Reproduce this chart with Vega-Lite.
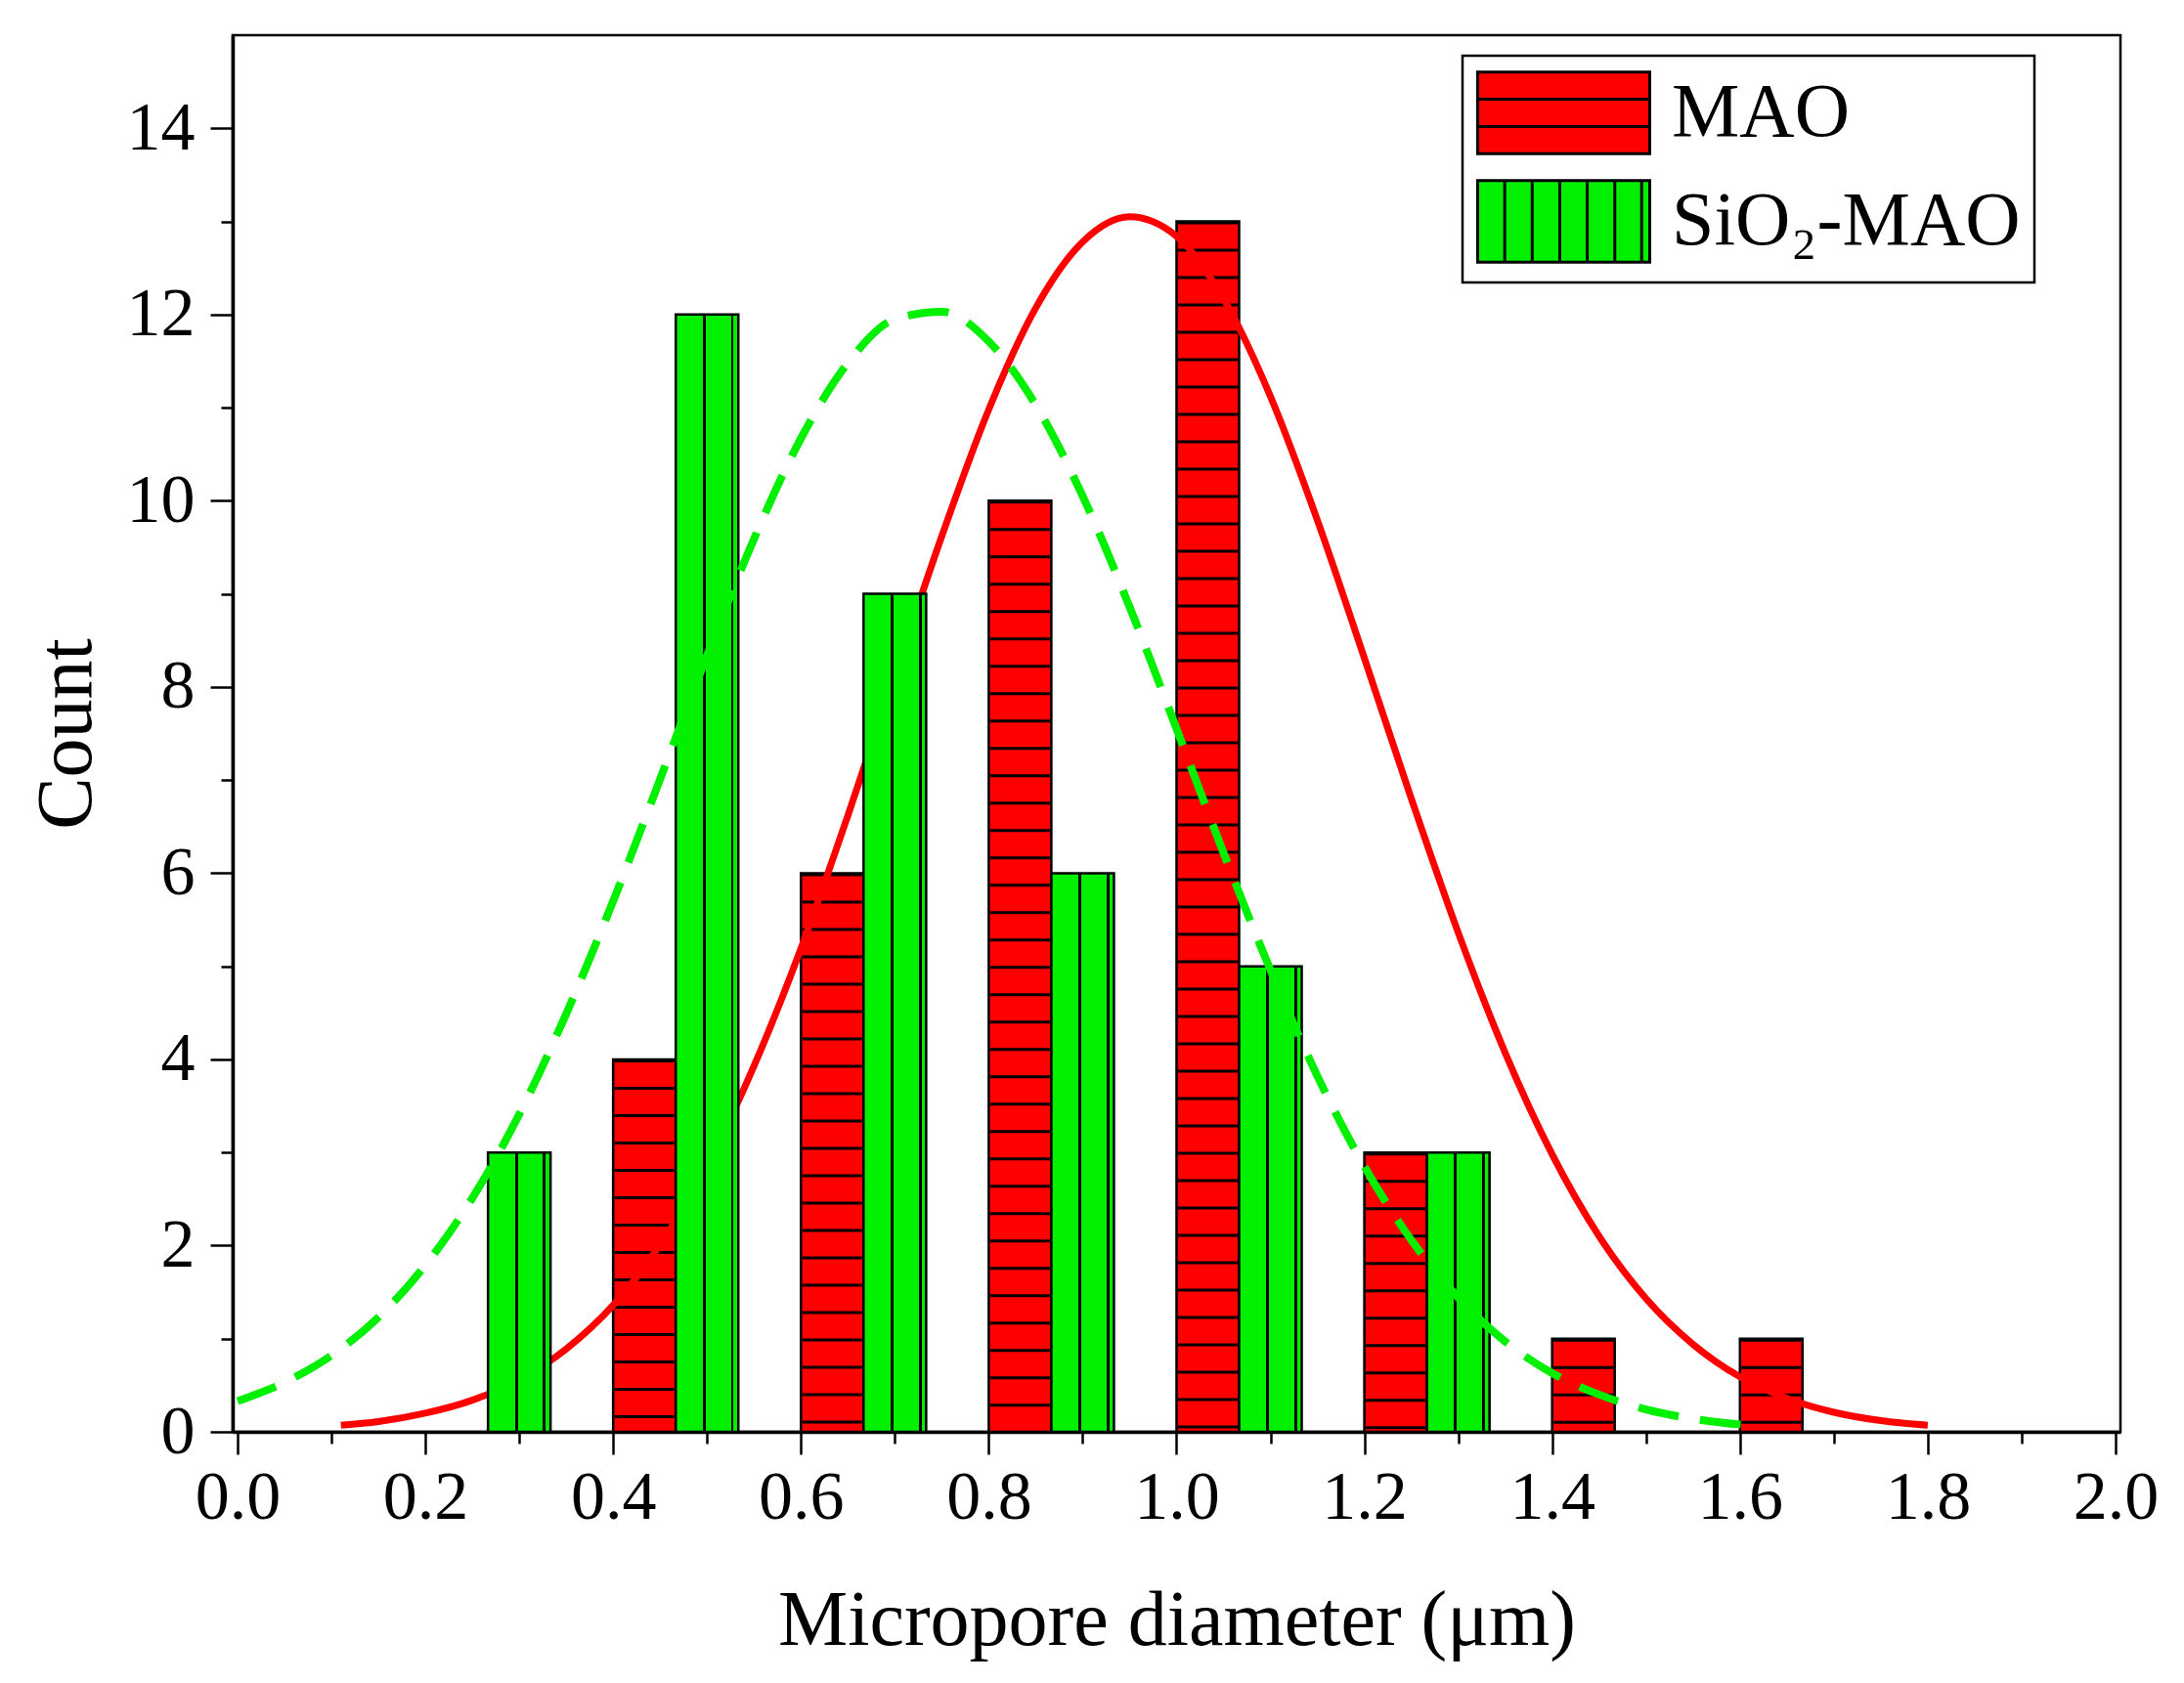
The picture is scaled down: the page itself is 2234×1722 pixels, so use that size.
{
  "$schema": "https://vega.github.io/schema/vega-lite/v6.json",
  "background": "white",
  "autosize": "none",
  "padding": {"left": 238, "top": 36, "right": 65, "bottom": 257},
  "width": 1931,
  "height": 1429,
  "datasets": {
    "bars": [
      {"series": "MAO", "diameter": 0.4333, "count": 4},
      {"series": "MAO", "diameter": 0.6333, "count": 6},
      {"series": "MAO", "diameter": 0.8333, "count": 10},
      {"series": "MAO", "diameter": 1.0333, "count": 13},
      {"series": "MAO", "diameter": 1.2333, "count": 3},
      {"series": "MAO", "diameter": 1.4333, "count": 1},
      {"series": "MAO", "diameter": 1.6333, "count": 1},
      {"series": "SiO₂-MAO", "diameter": 0.3, "count": 3},
      {"series": "SiO₂-MAO", "diameter": 0.5, "count": 12},
      {"series": "SiO₂-MAO", "diameter": 0.7, "count": 9},
      {"series": "SiO₂-MAO", "diameter": 0.9, "count": 6},
      {"series": "SiO₂-MAO", "diameter": 1.1, "count": 5},
      {"series": "SiO₂-MAO", "diameter": 1.3, "count": 3}
    ],
    "fits": [
      {"series": "MAO", "diameter": 0.11, "count": 0.07},
      {"series": "MAO", "diameter": 0.15, "count": 0.11},
      {"series": "MAO", "diameter": 0.2, "count": 0.2},
      {"series": "MAO", "diameter": 0.25, "count": 0.34},
      {"series": "MAO", "diameter": 0.3, "count": 0.56},
      {"series": "MAO", "diameter": 0.35, "count": 0.89},
      {"series": "MAO", "diameter": 0.4, "count": 1.36},
      {"series": "MAO", "diameter": 0.45, "count": 2.01},
      {"series": "MAO", "diameter": 0.5, "count": 2.86},
      {"series": "MAO", "diameter": 0.55, "count": 3.93},
      {"series": "MAO", "diameter": 0.6, "count": 5.19},
      {"series": "MAO", "diameter": 0.65, "count": 6.62},
      {"series": "MAO", "diameter": 0.7, "count": 8.13},
      {"series": "MAO", "diameter": 0.75, "count": 9.62},
      {"series": "MAO", "diameter": 0.8, "count": 10.98},
      {"series": "MAO", "diameter": 0.85, "count": 12.07},
      {"series": "MAO", "diameter": 0.9, "count": 12.78},
      {"series": "MAO", "diameter": 0.95, "count": 13.05},
      {"series": "MAO", "diameter": 1.0, "count": 12.84},
      {"series": "MAO", "diameter": 1.05, "count": 12.17},
      {"series": "MAO", "diameter": 1.1, "count": 11.12},
      {"series": "MAO", "diameter": 1.15, "count": 9.79},
      {"series": "MAO", "diameter": 1.2, "count": 8.31},
      {"series": "MAO", "diameter": 1.25, "count": 6.8},
      {"series": "MAO", "diameter": 1.3, "count": 5.36},
      {"series": "MAO", "diameter": 1.35, "count": 4.07},
      {"series": "MAO", "diameter": 1.4, "count": 2.98},
      {"series": "MAO", "diameter": 1.45, "count": 2.1},
      {"series": "MAO", "diameter": 1.5, "count": 1.43},
      {"series": "MAO", "diameter": 1.55, "count": 0.94},
      {"series": "MAO", "diameter": 1.6, "count": 0.59},
      {"series": "MAO", "diameter": 1.65, "count": 0.36},
      {"series": "MAO", "diameter": 1.7, "count": 0.21},
      {"series": "MAO", "diameter": 1.75, "count": 0.12},
      {"series": "MAO", "diameter": 1.8, "count": 0.07},
      {"series": "SiO₂-MAO", "diameter": 0.0, "count": 0.33},
      {"series": "SiO₂-MAO", "diameter": 0.05, "count": 0.53},
      {"series": "SiO₂-MAO", "diameter": 0.1, "count": 0.82},
      {"series": "SiO₂-MAO", "diameter": 0.15, "count": 1.23},
      {"series": "SiO₂-MAO", "diameter": 0.2, "count": 1.79},
      {"series": "SiO₂-MAO", "diameter": 0.25, "count": 2.51},
      {"series": "SiO₂-MAO", "diameter": 0.3, "count": 3.41},
      {"series": "SiO₂-MAO", "diameter": 0.35, "count": 4.49},
      {"series": "SiO₂-MAO", "diameter": 0.4, "count": 5.7},
      {"series": "SiO₂-MAO", "diameter": 0.45, "count": 7.01},
      {"series": "SiO₂-MAO", "diameter": 0.5, "count": 8.34},
      {"series": "SiO₂-MAO", "diameter": 0.55, "count": 9.59},
      {"series": "SiO₂-MAO", "diameter": 0.6, "count": 10.67},
      {"series": "SiO₂-MAO", "diameter": 0.65, "count": 11.48},
      {"series": "SiO₂-MAO", "diameter": 0.7, "count": 11.95},
      {"series": "SiO₂-MAO", "diameter": 0.75, "count": 12.03},
      {"series": "SiO₂-MAO", "diameter": 0.8, "count": 11.71},
      {"series": "SiO₂-MAO", "diameter": 0.85, "count": 11.03},
      {"series": "SiO₂-MAO", "diameter": 0.9, "count": 10.05},
      {"series": "SiO₂-MAO", "diameter": 0.95, "count": 8.86},
      {"series": "SiO₂-MAO", "diameter": 1.0, "count": 7.55},
      {"series": "SiO₂-MAO", "diameter": 1.05, "count": 6.22},
      {"series": "SiO₂-MAO", "diameter": 1.1, "count": 4.96},
      {"series": "SiO₂-MAO", "diameter": 1.15, "count": 3.82},
      {"series": "SiO₂-MAO", "diameter": 1.2, "count": 2.85},
      {"series": "SiO₂-MAO", "diameter": 1.25, "count": 2.06},
      {"series": "SiO₂-MAO", "diameter": 1.3, "count": 1.44},
      {"series": "SiO₂-MAO", "diameter": 1.35, "count": 0.97},
      {"series": "SiO₂-MAO", "diameter": 1.4, "count": 0.63},
      {"series": "SiO₂-MAO", "diameter": 1.45, "count": 0.4},
      {"series": "SiO₂-MAO", "diameter": 1.5, "count": 0.24},
      {"series": "SiO₂-MAO", "diameter": 1.55, "count": 0.14},
      {"series": "SiO₂-MAO", "diameter": 1.6, "count": 0.08},
      {"series": "SiO₂-MAO", "diameter": 1.62, "count": 0.07}
    ]
  },
  "encoding": {
    "x": {
      "field": "diameter",
      "type": "quantitative",
      "scale": {"domain": [0, 2], "nice": false, "zero": false},
      "axis": {
        "title": "Micropore diameter (μm)",
        "values": [0, 0.1, 0.2, 0.3, 0.4, 0.5, 0.6, 0.7, 0.8, 0.9, 1.0, 1.1, 1.2, 1.3, 1.4, 1.5, 1.6, 1.7, 1.8, 1.9, 2.0],
        "labelExpr": "round(datum.value * 10) % 2 === 0 ? format(datum.value, '.1f') : ''",
        "tickSize": {"condition": {"test": "round(datum.value * 10) % 2 === 0", "value": 23}, "value": 12},
        "labelPadding": 10,
        "titlePadding": 52
      }
    },
    "y": {
      "field": "count",
      "type": "quantitative",
      "scale": {"domain": [0, 15], "nice": false},
      "axis": {
        "title": "Count",
        "values": [0, 1, 2, 3, 4, 5, 6, 7, 8, 9, 10, 11, 12, 13, 14],
        "labelExpr": "datum.value % 2 === 0 ? datum.label : ''",
        "tickSize": {"condition": {"test": "datum.value % 2 === 0", "value": 23}, "value": 12},
        "labelPadding": 16,
        "titlePadding": 20
      }
    }
  },
  "layer": [
    {
      "data": {"name": "bars"},
      "transform": [{"filter": "datum.series === 'MAO'"}],
      "mark": {"type": "bar", "width": 64, "fill": "#ff0000", "stroke": "black", "strokeWidth": 2.5}
    },
    {
      "data": {"name": "bars"},
      "transform": [{"filter": "datum.series === 'MAO'"}],
      "mark": {"type": "rule", "stroke": "black", "strokeWidth": 61, "strokeDash": [3, 25], "strokeCap": "butt"},
      "encoding": {"y2": {"datum": 0}}
    },
    {
      "data": {"name": "fits"},
      "transform": [{"filter": "datum.series === 'MAO'"}],
      "mark": {"type": "line", "stroke": "#ff0000", "strokeWidth": 7, "interpolate": "monotone"}
    },
    {
      "data": {"name": "bars"},
      "transform": [{"filter": "datum.series !== 'MAO'"}],
      "mark": {
        "type": "bar",
        "width": 64,
        "stroke": "black",
        "strokeWidth": 2.5,
        "fill": {
          "gradient": "linear",
          "x1": 0, "y1": 0, "x2": 1, "y2": 0,
          "stops": [
            {"offset": 0, "color": "#00f000"},
            {"offset": 0.43, "color": "#00f000"},
            {"offset": 0.43, "color": "black"},
            {"offset": 0.475, "color": "black"},
            {"offset": 0.475, "color": "#00f000"},
            {"offset": 0.88, "color": "#00f000"},
            {"offset": 0.88, "color": "black"},
            {"offset": 0.925, "color": "black"},
            {"offset": 0.925, "color": "#00f000"},
            {"offset": 1, "color": "#00f000"}
          ]
        }
      }
    },
    {
      "data": {"name": "fits"},
      "transform": [{"filter": "datum.series !== 'MAO'"}],
      "mark": {"type": "line", "stroke": "#00f000", "strokeWidth": 8, "strokeDash": [42, 22], "interpolate": "monotone"}
    },
    {
      "data": {"name": "bars"},
      "transform": [{"filter": "false"}],
      "mark": {"type": "point", "filled": true, "opacity": 1, "strokeWidth": 3},
      "encoding": {
        "fill": {
          "field": "series",
          "type": "nominal",
          "scale": {"domain": ["MAO", "SiO₂-MAO"], "range": ["#ff0000", "#00f000"]},
          "legend": {"orient": "none", "legendX": 1258, "legendY": 21, "title": null}
        },
        "stroke": {
          "field": "series",
          "type": "nominal",
          "scale": {"domain": ["MAO", "SiO₂-MAO"], "range": ["black", "black"]},
          "legend": {"orient": "none", "legendX": 1258, "legendY": 21, "title": null}
        },
        "shape": {
          "field": "series",
          "type": "nominal",
          "scale": {
            "domain": ["MAO", "SiO₂-MAO"],
            "range": [
              "M-1,-0.97H3.093V0.97H-1ZM-1,-0.323H3.093M-1,0.323H3.093",
              "M-1,-0.97H3.093V0.97H-1ZM-0.357,-0.97V0.97M0.297,-0.97V0.97M0.952,-0.97V0.97M1.607,-0.97V0.97M2.262,-0.97V0.97M2.9,-0.97V0.97"
            ]
          },
          "legend": {"orient": "none", "legendX": 1258, "legendY": 21, "title": null}
        }
      }
    }
  ],
  "config": {
    "font": "Liberation Serif",
    "view": {"stroke": "black", "strokeWidth": 2.5},
    "axis": {
      "domainColor": "black",
      "domainWidth": 3.5,
      "tickColor": "black",
      "tickWidth": 2.5,
      "labelFont": "Liberation Serif",
      "labelFontSize": 70,
      "labelColor": "black",
      "labelFlush": false,
      "labelOverlap": false,
      "labelBound": false,
      "grid": false,
      "titleFont": "Liberation Serif",
      "titleFontSize": 80,
      "titleFontWeight": "normal",
      "titleColor": "black"
    },
    "legend": {
      "symbolSize": 7396,
      "symbolStrokeWidth": 3,
      "labelFont": "Liberation Serif",
      "labelFontSize": 78,
      "labelColor": "black",
      "labelLimit": 600,
      "labelOffset": 111,
      "rowPadding": 14,
      "padding": 14,
      "strokeColor": "black",
      "strokeWidth": 2.5,
      "fillColor": "white"
    }
  }
}
